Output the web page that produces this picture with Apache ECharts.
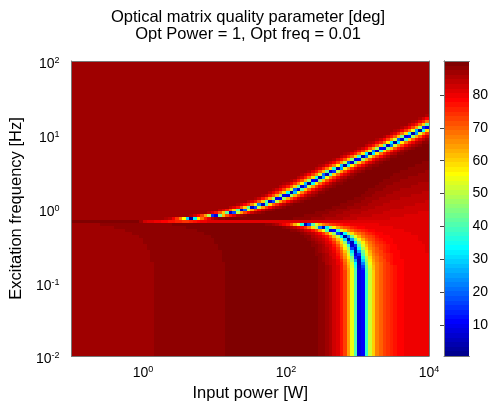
<!DOCTYPE html>
<html>
<head>
<meta charset="utf-8">
<script src="https://cdn.jsdelivr.net/npm/echarts@6/dist/echarts.min.js"></script>
<style>
  html, body { margin: 0; padding: 0; background: #fff; }
  #chart { width: 491px; height: 407px; }
</style>
</head>
<body>
<div id="chart"></div>
<script>
// ---- data ----
// plot ranges
const powerRange = [0.1, 10000];   // W
const freqRange = [0.01, 100];     // Hz
const nCols = 100, nRows = 100;    // pcolor grid
const notchF = 0.66;               // horizontal notch line [Hz]

// upper resonance track (Hz -> W)
const upperRidgeF = [0.724, 0.794, 0.871, 0.955, 1.047, 1.148, 1.259, 1.380, 1.514, 3.13, 6.4, 13.2, 100];
const upperRidgeP = [4.68, 10.1, 17.4, 24.5, 34.7, 46.2, 61.7, 79.4, 100, 430, 2100, 10000, 740000];
// lower resonance track (Hz -> W)
const lowerRidgeF = [0.01, 0.135, 0.173, 0.213, 0.262, 0.324, 0.378, 0.442, 0.491, 0.546, 0.588];
const lowerRidgeP = [1115, 1115, 1090, 1023, 951, 863, 760, 629, 472, 343, 194];

// value across the lower track, by offset in decades of power
const lowerOffset = [-5, -2.9, -2.9, -1.9, -1.9, -0.62, -0.52, -0.42, -0.32, -0.25, -0.19, -0.13, -0.08, -0.05, -0.025, 0,
  0.025, 0.05, 0.08, 0.13, 0.18, 0.23, 0.3, 0.4, 0.5, 0.65, 1.0, 5];
const lowerValue = [86.5, 86.5, 88, 88, 89.5, 89.5, 88, 85, 81, 76, 68, 57, 45, 30, 9, 2,
  9, 27, 39, 52, 61, 67, 71, 75, 78, 79.5, 80.5, 80.5];

// value across the upper track, by |offset| in decades of power
const upperOffset = [0, 0.025, 0.05, 0.075, 0.1, 0.15, 0.2, 0.25, 0.3, 0.4, 0.5, 5];
const upperValue = [2, 10, 32, 47, 57, 68, 75, 80, 84, 88, 89.5, 89.5];
const topValue = 86.5;

// region between upper track and notch line
const floorP = [100, 300, 1000, 3000, 10000];
const floorNearLine = [89.5, 86, 83, 81.5, 80.5];
const floorTopF = [0.75, 0.9, 1.5, 3.0, 5.0];

// the notch row itself
const lineP = [0.1, 0.85, 1.1, 4, 8, 10000];
const lineValue = [89.5, 89.5, 82, 74, 81, 81];

// colour scale
const cMin = 0.6, cMax = 90.3;
const cbarTicks = [10, 20, 30, 40, 50, 60, 70, 80];

// ---- helpers ----
const FONT = '"Liberation Sans", Arial, Helvetica, sans-serif';
const lg = Math.log10;

function interp(xs, ys, x) {
  if (x <= xs[0]) return ys[0];
  if (x >= xs[xs.length - 1]) return ys[ys.length - 1];
  let i = 0;
  while (i < xs.length - 1 && xs[i + 1] <= x) i++;
  const t = (x - xs[i]) / (xs[i + 1] - xs[i]);
  return ys[i] + t * (ys[i + 1] - ys[i]);
}

function jet(n) {
  const m = Math.ceil(n / 4);
  const u = [];
  for (let i = 1; i <= m; i++) u.push(i / m);
  for (let i = 1; i < m; i++) u.push(1);
  for (let i = m; i >= 1; i--) u.push(i / m);
  const g0 = Math.ceil(m / 2) - (n % 4 === 1 ? 1 : 0);
  const J = Array.from({ length: n }, () => [0, 0, 0]);
  u.forEach((val, k) => {
    const g = g0 + k + 1, r = g + m, b = g - m;
    if (r >= 1 && r <= n) J[r - 1][0] = val;
    if (g >= 1 && g <= n) J[g - 1][1] = val;
    if (b >= 1 && b <= n) J[b - 1][2] = val;
  });
  return J.map(c => 'rgb(' + c.map(v => Math.round(v * 255)).join(',') + ')');
}

const lgUpF = upperRidgeF.map(lg), lgUpP = upperRidgeP.map(lg);
const lgLoF = lowerRidgeF.map(lg), lgLoP = lowerRidgeP.map(lg);
const lgFloorP = floorP.map(lg), lgFloorTop = floorTopF.map(lg);
const lgLineP = lineP.map(lg);

function cellValue(lp, lfLo, lfHi) {
  const lf = (lfLo + lfHi) / 2;
  const ln = lg(notchF);
  if (lfLo <= ln && ln < lfHi) {
    return interp(lgLineP, lineValue, lp);
  }
  if (lf < ln) {
    const d = lp - interp(lgLoF, lgLoP, lf);
    return interp(lowerOffset, lowerValue, d);
  }
  const d = lp - interp(lgUpF, lgUpP, lf);
  const prof = interp(upperOffset, upperValue, Math.abs(d));
  if (d < 0) return Math.min(prof, topValue);
  const v0 = interp(lgFloorP, floorNearLine, lp);
  const top = interp(lgFloorP, lgFloorTop, lp);
  const t = Math.max(0, Math.min(1, (lfLo - ln) / (top - ln)));
  const floor = v0 + (89.5 - v0) * t;
  return Math.min(prof, floor);
}

// build pcolor cells [p0, p1, f0, f1, value]
const lpMin = lg(powerRange[0]), lpMax = lg(powerRange[1]);
const lfMin = lg(freqRange[0]), lfMax = lg(freqRange[1]);
const cells = [];
for (let i = 0; i < nCols; i++) {
  const a = lpMin + (lpMax - lpMin) * i / nCols;
  const b = lpMin + (lpMax - lpMin) * (i + 1) / nCols;
  for (let j = 0; j < nRows; j++) {
    const c = lfMin + (lfMax - lfMin) * j / nRows;
    const d = lfMin + (lfMax - lfMin) * (j + 1) / nRows;
    cells.push([Math.pow(10, a), Math.pow(10, b), Math.pow(10, c), Math.pow(10, d), cellValue((a + b) / 2, c, d)]);
  }
}

// colorbar bands
const jetColors = jet(64);
const step = (cMax - cMin) / 64;
const bands = [];
const pieces = [];
for (let k = 0; k < 64; k++) {
  const lo = cMin + k * step, hi = cMin + (k + 1) * step;
  bands.push([0, 1, lo, hi, (lo + hi) / 2]);
  pieces.push({ gte: k === 0 ? -1e9 : lo, lt: k === 63 ? 1e9 : hi, color: jetColors[k] });
}

function renderCell(params, api) {
  const p0 = api.coord([api.value(0), api.value(3)]);
  const p1 = api.coord([api.value(1), api.value(2)]);
  const x = Math.round(p0[0]), y = Math.round(p0[1]);
  return {
    type: 'rect',
    shape: { x: x, y: y, width: Math.round(p1[0]) - x, height: Math.round(p1[1]) - y },
    style: { fill: api.visual('color') }
  };
}

const rich = {
  b: { fontFamily: FONT, fontSize: 14, color: '#000', padding: [5, 0, 0, 0], lineHeight: 15, verticalAlign: 'bottom' },
  e: { fontFamily: FONT, fontSize: 9, color: '#000', lineHeight: 9, verticalAlign: 'top' }
};
const boxLine = { show: true, lineStyle: { color: '#777', width: 1 } };

const chart = echarts.init(document.getElementById('chart'));
chart.setOption({
  animation: false,
  backgroundColor: '#fff',
  title: {
    text: 'Optical matrix quality parameter [deg]\nOpt Power = 1, Opt freq = 0.01',
    left: 248, top: 9, textAlign: 'center', padding: 0,
    textStyle: { fontFamily: FONT, fontSize: 16.5, fontWeight: 'normal', color: '#000', lineHeight: 17 }
  },
  grid: [
    { left: 67, top: 61, width: 362, height: 295 },
    { left: 444, top: 61, width: 28, height: 295 }
  ],
  xAxis: [
    {
      gridIndex: 0, type: 'log', logBase: 10, min: powerRange[0], max: powerRange[1], position: 'bottom', z: 5,
      axisLine: boxLine, axisTick: { show: false }, splitLine: { show: false },
      axisLabel: {
        margin: 9, rich: rich,
        formatter: v => { const e = Math.round(lg(v)); return e % 2 === 0 ? '{b|10}{e|' + e + '}' : ''; }
      },
      name: 'Input power [W]', nameLocation: 'middle', nameGap: 29,
      nameTextStyle: { fontFamily: FONT, fontSize: 16.5, color: '#000' }
    },
    {
      gridIndex: 0, type: 'log', logBase: 10, min: powerRange[0], max: powerRange[1], position: 'top', z: 5,
      axisLine: boxLine, axisTick: { show: false }, axisLabel: { show: false }, splitLine: { show: false }
    },
    {
      gridIndex: 1, type: 'value', min: 0, max: 1, position: 'bottom', z: 5,
      axisLine: boxLine, axisTick: { show: false }, axisLabel: { show: false }, splitLine: { show: false }
    },
    {
      gridIndex: 1, type: 'value', min: 0, max: 1, position: 'top', z: 5,
      axisLine: boxLine, axisTick: { show: false }, axisLabel: { show: false }, splitLine: { show: false }
    }
  ],
  yAxis: [
    {
      gridIndex: 0, type: 'log', logBase: 10, min: freqRange[0], max: freqRange[1], position: 'left', z: 5,
      axisLine: boxLine, axisTick: { show: false }, splitLine: { show: false },
      axisLabel: {
        margin: 12, rich: rich, padding: [6, 0, 0, 0],
        formatter: v => '{b|10}{e|' + Math.round(lg(v)) + '}'
      },
      name: 'Excitation frequency [Hz]', nameLocation: 'middle', nameGap: 37,
      nameTextStyle: { fontFamily: FONT, fontSize: 16.5, color: '#000' }
    },
    {
      gridIndex: 0, type: 'log', logBase: 10, min: freqRange[0], max: freqRange[1], position: 'right', z: 5,
      axisLine: boxLine, axisTick: { show: false }, axisLabel: { show: false }, splitLine: { show: false }
    },
    {
      gridIndex: 1, type: 'value', min: cMin, max: cMax, position: 'right', z: 5,
      axisLine: boxLine, splitLine: { show: false },
      axisTick: { show: true, inside: true, length: 4, customValues: cbarTicks, lineStyle: { color: '#444' } },
      axisLabel: { margin: 3, customValues: cbarTicks, fontFamily: FONT, fontSize: 14, color: '#000' }
    },
    {
      gridIndex: 1, type: 'value', min: cMin, max: cMax, position: 'left', z: 5,
      axisLine: boxLine, axisTick: { show: false }, axisLabel: { show: false }, splitLine: { show: false }
    }
  ],
  visualMap: {
    type: 'piecewise', show: false, dimension: 4, seriesIndex: [0, 1], pieces: pieces
  },
  series: [
    {
      type: 'custom', xAxisIndex: 0, yAxisIndex: 0, renderItem: renderCell,
      encode: { x: [0, 1], y: [2, 3] }, data: cells, silent: true
    },
    {
      type: 'custom', xAxisIndex: 2, yAxisIndex: 2, renderItem: renderCell,
      encode: { x: [0, 1], y: [2, 3] }, data: bands, silent: true
    }
  ]
});
</script>
</body>
</html>
